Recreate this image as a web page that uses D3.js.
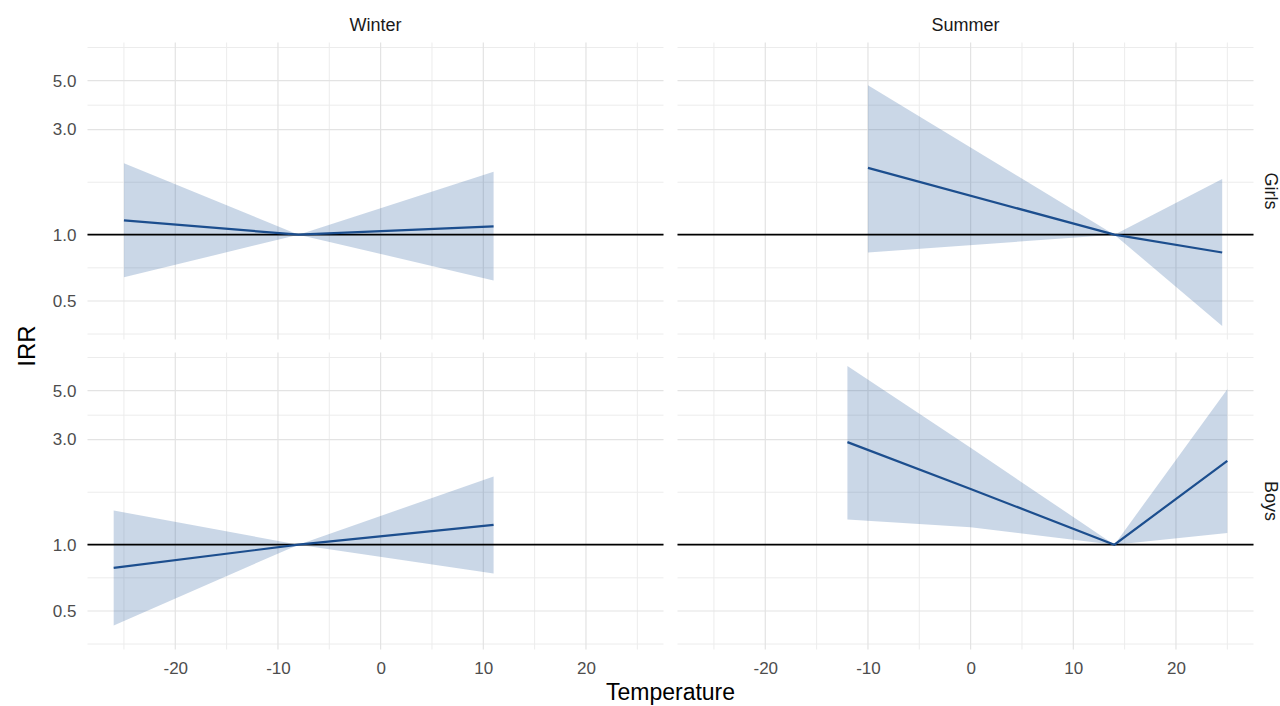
<!DOCTYPE html>
<html>
<head>
<meta charset="utf-8">
<script src="https://cdn.jsdelivr.net/npm/d3@7"></script>
<style>
  body { margin: 0; background: #fff; }
  svg text { font-family: "Liberation Sans", Arial, sans-serif; }
</style>
</head>
<body>
<div id="chart"></div>
<script>
// facets
const seasons = ["Winter", "Summer"];
const groups = ["Girls", "Boys"];

// values (temperature, IRR, 95% band)
const winterGirlsTemp = [-25, -8, 11];
const winterGirlsIRR = [1.16, 1, 1.09];
const winterGirlsLow = [0.64, 1, 0.62];
const winterGirlsHigh = [2.11, 1, 1.93];

const winterBoysTemp = [-26, -8, 11];
const winterBoysIRR = [0.785, 1, 1.23];
const winterBoysLow = [0.43, 1, 0.74];
const winterBoysHigh = [1.43, 1, 2.04];

const summerGirlsTemp = [-10, 14, 24.5];
const summerGirlsIRR = [2.01, 1, 0.83];
const summerGirlsLow = [0.83, 1, 0.385];
const summerGirlsHigh = [4.76, 1, 1.79];

const summerBoysTemp = [-12, 0, 14, 25];
const summerBoysIRR = [2.92, 1.79, 1, 2.40];
const summerBoysLow = [1.30, 1.20, 1, 1.13];
const summerBoysHigh = [6.47, 2.75, 1, 5.07];

// axis breaks
const xTicks = [-20, -10, 0, 10, 20];
const xMinor = [-25, -15, -5, 5, 15, 25];
const yTicks = [0.5, 1, 3, 5];
const yMinor = [0.354, 0.707, 1.73, 3.87, 7.07];

function rows(temp, irr, low, high) {
  return temp.map((t, i) => ({ temp: t, irr: irr[i], low: low[i], high: high[i] }));
}

let panels = [
  { season: "Winter", group: "Girls", data: rows(winterGirlsTemp, winterGirlsIRR, winterGirlsLow, winterGirlsHigh) },
  { season: "Summer", group: "Girls", data: rows(summerGirlsTemp, summerGirlsIRR, summerGirlsLow, summerGirlsHigh) },
  { season: "Winter", group: "Boys", data: rows(winterBoysTemp, winterBoysIRR, winterBoysLow, winterBoysHigh) },
  { season: "Summer", group: "Boys", data: rows(summerBoysTemp, summerBoysIRR, summerBoysLow, summerBoysHigh) }
];

let width = 1280, height = 706;
let panelW = 576, panelH = 297;
let colX = [87.5, 677.5];
let rowY = [42.5, 352.5];

let svg = d3.select('#chart')
  .append('svg')
  .attr('width', width)
  .attr('height', height);

// shared scales with ggplot-like 5% expansion
let all = panels.flatMap(p => p.data);
let xExt = d3.extent(all, d => d.temp);
let xPad = (xExt[1] - xExt[0]) * 0.05;
let xscale = d3.scaleLinear()
  .domain([xExt[0] - xPad, xExt[1] + xPad])
  .range([0, panelW]);

let lmin = Math.log10(d3.min(all, d => d.low));
let lmax = Math.log10(d3.max(all, d => d.high));
let lPad = (lmax - lmin) * 0.05;
let yscale = d3.scaleLog()
  .domain([Math.pow(10, lmin - lPad), Math.pow(10, lmax + lPad)])
  .range([panelH, 0]);

const area = d3.area()
  .x(d => xscale(d.temp))
  .y0(d => yscale(d.low))
  .y1(d => yscale(d.high));

const line = d3.line()
  .x(d => xscale(d.temp))
  .y(d => yscale(d.irr));

panels.forEach(function(p) {
  let c = seasons.indexOf(p.season), r = groups.indexOf(p.group);
  let g = svg.append('g')
    .attr('transform', `translate(${colX[c]},${rowY[r]})`);

  // grid
  g.selectAll('.ymin').data(yMinor).enter().append('line')
    .attr('x1', 0).attr('x2', panelW)
    .attr('y1', d => yscale(d)).attr('y2', d => yscale(d))
    .attr('stroke', '#ececec').attr('stroke-width', 1);
  g.selectAll('.xmin').data(xMinor).enter().append('line')
    .attr('y1', 0).attr('y2', panelH)
    .attr('x1', d => xscale(d)).attr('x2', d => xscale(d))
    .attr('stroke', '#ececec').attr('stroke-width', 1);
  g.selectAll('.ymaj').data(yTicks).enter().append('line')
    .attr('x1', 0).attr('x2', panelW)
    .attr('y1', d => yscale(d)).attr('y2', d => yscale(d))
    .attr('stroke', '#e3e3e3').attr('stroke-width', 1.2);
  g.selectAll('.xmaj').data(xTicks).enter().append('line')
    .attr('y1', 0).attr('y2', panelH)
    .attr('x1', d => xscale(d)).attr('x2', d => xscale(d))
    .attr('stroke', '#e3e3e3').attr('stroke-width', 1.2);

  g.append('path')
    .datum(p.data)
    .attr('fill', '#2c5fa0')
    .attr('fill-opacity', 0.25)
    .attr('d', area);

  g.append('line')
    .attr('x1', 0).attr('x2', panelW)
    .attr('y1', yscale(1)).attr('y2', yscale(1))
    .attr('stroke', '#000').attr('stroke-width', 1.8);

  g.append('path')
    .datum(p.data)
    .attr('fill', 'none')
    .attr('stroke', '#1c4e8e')
    .attr('stroke-width', 2.2)
    .attr('d', line);

  if (c === 0) {
    let ax = g.append('g')
      .call(d3.axisLeft(yscale).tickValues(yTicks).tickFormat(d3.format('.1f')).tickSize(0).tickPadding(11));
    ax.select('.domain').remove();
    ax.selectAll('text').style('font-size', '17px').attr('fill', '#4d4d4d');
  }
  if (r === 1) {
    let ax = g.append('g')
      .attr('transform', `translate(0,${panelH})`)
      .call(d3.axisBottom(xscale).tickValues(xTicks).tickFormat(d => String(d)).tickSize(0).tickPadding(12.5));
    ax.select('.domain').remove();
    ax.selectAll('text').style('font-size', '17px').attr('fill', '#4d4d4d');
  }
});

// strips
svg.selectAll('.colstrip').data(seasons).enter().append('text')
  .attr('x', (d, i) => colX[i] + panelW / 2)
  .attr('y', 31)
  .attr('text-anchor', 'middle')
  .style('font-size', '18px')
  .attr('fill', '#1a1a1a')
  .text(d => d);

svg.selectAll('.rowstrip').data(groups).enter().append('text')
  .attr('transform', (d, i) => `translate(1271,${rowY[i] + panelH / 2}) rotate(90)`)
  .attr('text-anchor', 'middle')
  .attr('dy', '0.35em')
  .style('font-size', '18px')
  .attr('fill', '#1a1a1a')
  .text(d => d);

// axis titles
svg.append('text')
  .attr('x', colX[0] + (colX[1] + panelW - colX[0]) / 2)
  .attr('y', 700)
  .attr('text-anchor', 'middle')
  .style('font-size', '23px')
  .text('Temperature');

svg.append('text')
  .attr('transform', `translate(27,${(rowY[0] + rowY[1] + panelH) / 2}) rotate(-90)`)
  .attr('text-anchor', 'middle')
  .attr('dy', '0.35em')
  .style('font-size', '24px')
  .text('IRR');
</script>
</body>
</html>
